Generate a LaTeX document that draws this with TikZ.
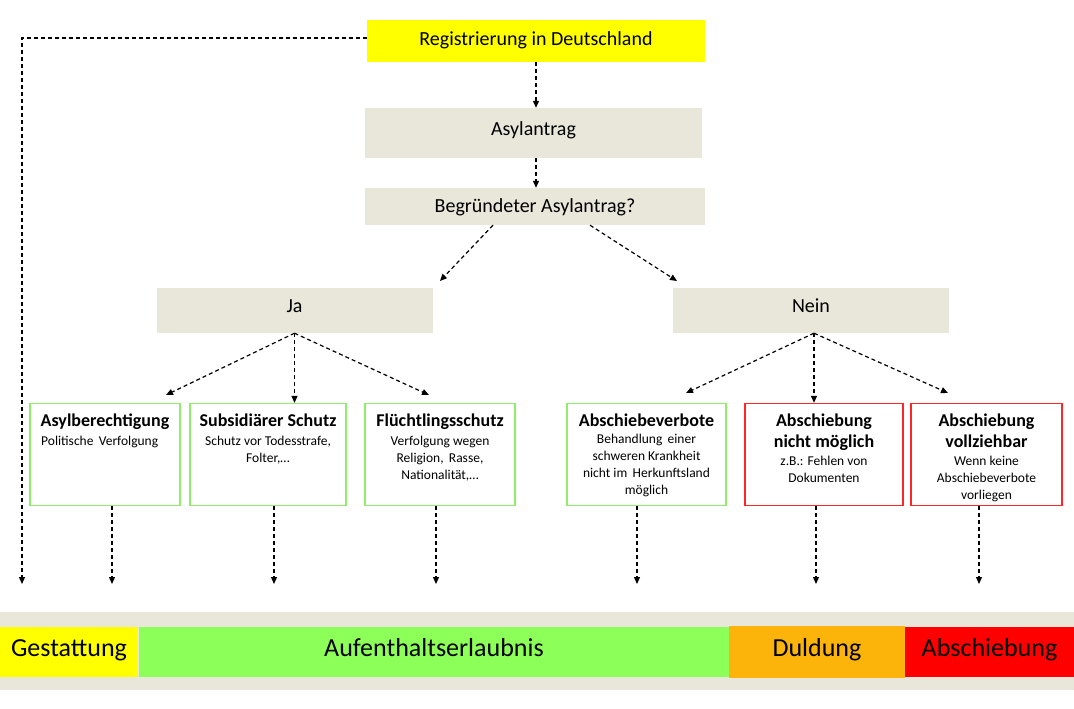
\documentclass[tikz,border=0pt]{standalone}
\usepackage{fontspec}
\setmainfont{Carlito}
\usetikzlibrary{arrows.meta}
\definecolor{beige}{HTML}{E9E6DA}
\definecolor{gborder}{HTML}{90EE6C}
\definecolor{rborder}{HTML}{FF2626}
\definecolor{ygelb}{HTML}{FFFF00}
\definecolor{bgreen}{HTML}{8CFF58}
\definecolor{borange}{HTML}{FCB40A}
\definecolor{bred}{HTML}{FF0000}
\begin{document}
\begin{tikzpicture}[x=1pt,y=-1pt,
  fill box/.style={draw=none,inner sep=0pt,minimum width=#1,text height=0.68em,text depth=0.2em},
  ybox/.style={fill box=338pt,fill=ygelb,minimum height=42pt,font=\fontsize{20}{24}\selectfont},
  bbox/.style={fill box=#1,fill=beige,font=\fontsize{20}{24}\selectfont},
  gbox/.style={draw=gborder,line width=1.3pt,inner sep=0pt,minimum width=#1,minimum height=102pt},
  rbox/.style={draw=rborder,line width=1.3pt,inner sep=0pt,minimum width=#1,minimum height=102pt},
  ttl/.style={anchor=north,inner sep=0pt,align=center,font=\fontsize{18}{20.5}\selectfont\bfseries},
  dsc/.style={anchor=north,inner sep=0pt,align=center,font=\fontsize{13.5}{17}\selectfont},
  band/.style={draw=none,inner sep=0pt,minimum height=50pt,minimum width=#1,text height=1.1em,text depth=0.2em,font=\fontsize{26}{30}\selectfont},
  conn/.style={line width=1.2pt,dash pattern=on 4pt off 3pt,-{Triangle[length=7pt,width=6pt]}},
]
\useasboundingbox (0,0) rectangle (1074,709);

% top chain
\node[ybox,text height=1.1em] (reg) at (536,41) {Registrierung in Deutschland};
\node[bbox=337pt,minimum height=50pt] (asyl) at (533.5,133) {Asylantrag};
\node[bbox=340pt,minimum height=37pt,text height=1.45em] (begr) at (535,206.5) {Begründeter Asylantrag?};
\node[bbox=276pt,minimum height=45pt] (ja) at (294.5,310.5) {Ja};
\node[bbox=276pt,minimum height=45pt] (nein) at (811,310.5) {Nein};

% outcome boxes
\node[gbox=150pt] (a1) at (105,454.5) {};
\node[gbox=156pt] (a2) at (268,454.5) {};
\node[gbox=150pt] (a3) at (440,454.5) {};
\node[gbox=159pt] (n1) at (646.5,454.5) {};
\node[rbox=158pt] (n2) at (824,454.5) {};
\node[rbox=151pt] (n3) at (986.5,454.5) {};

\node[ttl] (a1t) at ([yshift=-11pt]a1.north) {Asylberechtigung};
\node[dsc,anchor=north west] (a1d) at ([xshift=-64pt,yshift=-33pt]a1.north) {Politische\, Verfolgung};
\node[ttl] (a2t) at ([yshift=-11pt]a2.north) {Subsidiärer Schutz};
\node[dsc] (a2d) at ([yshift=-33pt]a2.north) {Schutz vor Todesstrafe,\\Folter,…};
\node[ttl] (a3t) at ([yshift=-11pt]a3.north) {Flüchtlingsschutz};
\node[dsc] (a3d) at ([yshift=-33pt]a3.north) {Verfolgung wegen\\Religion,\, Rasse,\\Nationalität,…};
\node[ttl] (n1t) at ([yshift=-11pt]n1.north) {Abschiebeverbote};
\node[dsc] (n1d) at ([yshift=-31pt]n1.north) {Behandlung\, einer\\schweren Krankheit\\nicht im\, Herkunftsland\\möglich};
\node[ttl] (n2t) at ([yshift=-11pt]n2.north) {Abschiebung\\nicht möglich};
\node[dsc] (n2d) at ([yshift=-53pt]n2.north) {z.B.: Fehlen von\\Dokumenten};
\node[ttl] (n3t) at ([yshift=-11pt]n3.north) {Abschiebung\\vollziehbar};
\node[dsc] (n3d) at ([yshift=-53pt]n3.north) {Wenn keine\\Abschiebeverbote\\vorliegen};

% bottom band
\node[draw=none,fill=beige,inner sep=0pt,minimum width=1074pt,minimum height=78pt] (bandbg) at (537,651) {};
\node[band=138pt,fill=ygelb] (gest) at (69,652) {Gestattung};
\node[band=590pt,fill=bgreen] (auf) at (434,652) {Aufenthaltserlaubnis};
\node[band=176pt,fill=borange,minimum height=52pt] (duld) at (817,652) {Duldung};
\node[band=169pt,fill=bred] (absch) at (989.5,652) {Abschiebung};

% free ends
\coordinate (t0) at (22,584);
\coordinate (t1) at (112,584);
\coordinate (t2) at (274,584);
\coordinate (t3) at (436,584);
\coordinate (t4) at (637,584);
\coordinate (t5) at (816,584);
\coordinate (t6) at (979,584);
\coordinate (jaL) at (440,281);
\coordinate (neinR) at (677,281);
\coordinate (j1) at (166,395);
\coordinate (j3) at (429,395);
\coordinate (m1) at (686,393);
\coordinate (m3) at (948,393);

% connectors
\draw[conn] ([yshift=3pt]reg.west) -| (t0);
\draw[conn] (reg.south) -- (reg.south |- asyl.north);
\draw[conn] (reg.south |- asyl.south) -- (reg.south |- begr.north);
\draw[conn] ([xshift=-42pt]begr.south) -- (jaL);
\draw[conn] ([xshift=55pt]begr.south) -- (neinR);
\draw[conn] (ja.south) -- (j1);
\draw[conn] (ja.south) -- (ja.south |- a2.north);
\draw[conn] (ja.south) -- (j3);
\draw[conn] ([xshift=3pt]nein.south) -- (m1);
\draw[conn] ([xshift=3pt]nein.south) -- ([xshift=3pt]nein.south |- n2.north);
\draw[conn] ([xshift=3pt]nein.south) -- (m3);
\draw[conn] ([xshift=7pt]a1.south) -- (t1);
\draw[conn] ([xshift=6pt]a2.south) -- (t2);
\draw[conn] ([xshift=-4pt]a3.south) -- (t3);
\draw[conn] ([xshift=-9.5pt]n1.south) -- (t4);
\draw[conn] ([xshift=-8pt]n2.south) -- (t5);
\draw[conn] ([xshift=-7.5pt]n3.south) -- (t6);
\end{tikzpicture}
\end{document}
